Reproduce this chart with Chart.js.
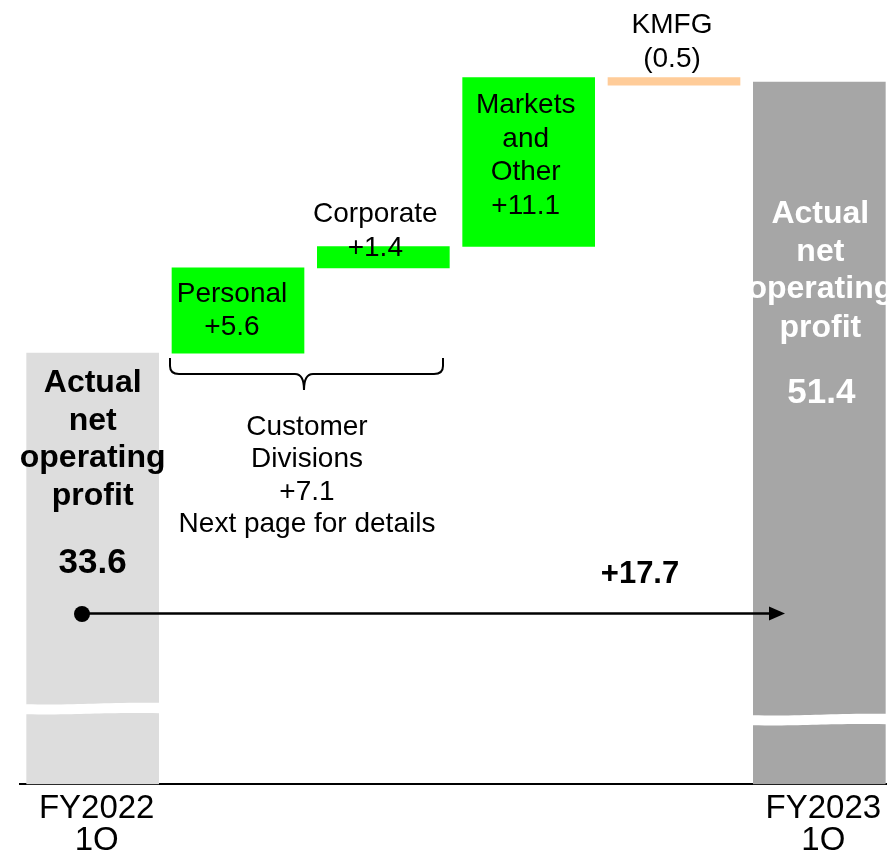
<!DOCTYPE html>
<html>
<head>
<meta charset="utf-8">
<script src="https://cdn.jsdelivr.net/npm/chart.js@4"></script>
<style>
    html, body { margin: 0; padding: 0; background: #fff; overflow: hidden; }
    #wrap { position: absolute; left: 0; top: 0; width: 892px; height: 865px; }
</style>
</head>
<body>
<div id="wrap"><canvas id="chart"></canvas></div>
<script>
// values (billion yen)
const categories = [['FY2022', '1Q'], '', '', '', '', ['FY2023', '1Q']];
const startTotal = 33.6;
const endTotal = 51.4;
const stepNames = ['Personal', 'Corporate', 'Markets and Other', 'KMFG'];
const stepDeltas = [5.6, 1.4, 11.1, -0.5];
const customerDelta = 7.1;
const totalDelta = 17.7;

// broken axis: the bottom of the plot is not zero
const axisMin = 5.28;
const axisMax = 56.79;

const colors = ['#dddddd', '#00ff00', '#00ff00', '#00ff00', '#ffcc99', '#a6a6a6'];

function fmt(v) {
    return v < 0 ? '(' + Math.abs(v).toFixed(1) + ')' : '+' + v.toFixed(1);
}

// build floating bars from running total
function buildBars() {
    const bars = [[axisMin, startTotal]];
    let run = startTotal;
    stepDeltas.forEach(d => {
        bars.push([run, run + d]);
        run += d;
    });
    bars.push([axisMin, endTotal]);
    return bars;
}

const FONT = '"Liberation Sans", Arial, sans-serif';

function lines(ctx, arr, x, ys, font, color) {
    ctx.font = font;
    ctx.fillStyle = color;
    arr.forEach((t, i) => ctx.fillText(t, x, ys[i]));
}

const decor = {
    id: 'decor',
    afterDatasetsDraw(chart) {
        const ctx = chart.ctx;
        const bars = chart.getDatasetMeta(0).data;
        const bottom = chart.chartArea.bottom;
        ctx.save();

        // axis break marks
        [[0, bottom - 80], [5, bottom - 69]].forEach(([i, y]) => {
            const b = bars[i];
            const l = b.x - b.width / 2 - 1, r = b.x + b.width / 2 + 1;
            ctx.beginPath();
            ctx.moveTo(l, y);
            ctx.bezierCurveTo(l + (r - l) * 0.45, y + 1, l + (r - l) * 0.5, y - 2, r, y - 1.5);
            ctx.lineTo(r, y + 9);
            ctx.bezierCurveTo(l + (r - l) * 0.5, y + 8, l + (r - l) * 0.45, y + 11, l, y + 10);
            ctx.closePath();
            ctx.fillStyle = '#fff';
            ctx.fill();
        });

        ctx.textAlign = 'center';
        ctx.textBaseline = 'alphabetic';
        const bold32 = 'bold 32px ' + FONT;
        const bold35 = 'bold 35px ' + FONT;
        const norm28 = '28px ' + FONT;
        const title = ['Actual', 'net', 'operating', 'profit'];

        lines(ctx, title, bars[0].x, [392, 430, 467, 505], bold32, '#000');
        lines(ctx, [startTotal.toFixed(1)], bars[0].x, [573], bold35, '#000');
        lines(ctx, title, bars[5].x + 1, [223, 261, 298, 337], bold32, '#fff');
        lines(ctx, [endTotal.toFixed(1)], bars[5].x + 2, [403], bold35, '#fff');

        lines(ctx, [stepNames[0], fmt(stepDeltas[0])], bars[1].x - 6, [302, 335], norm28, '#000');
        lines(ctx, [stepNames[1], fmt(stepDeltas[1])], bars[2].x - 8, [222, 256], norm28, '#000');
        lines(ctx, ['Markets', 'and', 'Other', fmt(stepDeltas[2])], bars[3].x - 3, [113, 147, 180, 214], norm28, '#000');
        lines(ctx, [stepNames[3], fmt(stepDeltas[3])], bars[4].x - 2, [33, 67], norm28, '#000');

        // brace under customer divisions
        const bl = 170, br = 443, bm = 304, by = 374;
        ctx.beginPath();
        ctx.moveTo(bl, 358);
        ctx.lineTo(bl, 366);
        ctx.quadraticCurveTo(bl, by, bl + 9, by);
        ctx.lineTo(bm - 9, by);
        ctx.quadraticCurveTo(bm, by, bm, 390);
        ctx.quadraticCurveTo(bm, by, bm + 9, by);
        ctx.lineTo(br - 9, by);
        ctx.quadraticCurveTo(br, by, br, 366);
        ctx.lineTo(br, 358);
        ctx.strokeStyle = '#000';
        ctx.lineWidth = 2;
        ctx.stroke();

        lines(ctx, ['Customer', 'Divisions', fmt(customerDelta), 'Next page for details'],
            307, [435, 467, 500, 532], norm28, '#000');

        // total change arrow
        lines(ctx, [fmt(totalDelta)], 640, [583], 'bold 31px ' + FONT, '#000');
        ctx.beginPath();
        ctx.arc(82, 614, 8, 0, Math.PI * 2);
        ctx.fillStyle = '#000';
        ctx.fill();
        ctx.beginPath();
        ctx.moveTo(82, 613.5);
        ctx.lineTo(772, 613.5);
        ctx.lineWidth = 2.5;
        ctx.stroke();
        ctx.beginPath();
        ctx.moveTo(785, 613.5);
        ctx.lineTo(769, 606.5);
        ctx.lineTo(769, 620.5);
        ctx.closePath();
        ctx.fill();

        ctx.restore();
    }
};

new Chart(document.getElementById('chart'), {
    type: 'bar',
    data: {
        labels: categories,
        datasets: [{
            data: buildBars(),
            backgroundColor: colors,
            borderWidth: 0,
            barThickness: 132,
        }]
    },
    options: {
        responsive: true,
        maintainAspectRatio: false,
        animation: false,
        layout: { padding: { left: 20, right: 0, top: 0, bottom: 0 } },
        plugins: {
            legend: { display: false },
            tooltip: { enabled: false },
        },
        scales: {
            x: {
                grid: { display: false, drawTicks: false },
                border: { display: true, color: '#000', width: 2 },
                ticks: {
                    color: '#000',
                    font: { family: FONT, size: 33, lineHeight: 0.98 },
                    padding: 8,
                    labelOffset: 4,
                    maxRotation: 0,
                    autoSkip: false,
                },
            },
            y: {
                display: false,
                min: axisMin,
                max: axisMax,
            }
        }
    },
    plugins: [decor],
});
</script>
</body>
</html>
